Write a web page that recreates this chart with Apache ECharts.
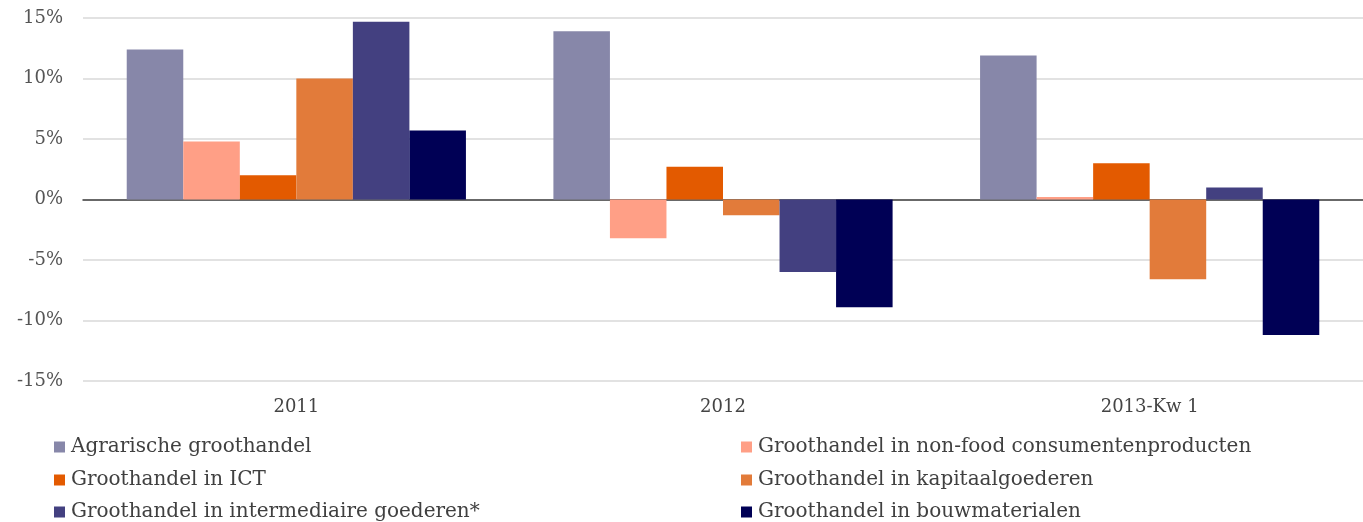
<!DOCTYPE html>
<html><head><meta charset="utf-8">
<script src="https://cdn.jsdelivr.net/npm/echarts@6/dist/echarts.min.js"></script>
<style>html,body{margin:0;padding:0;background:#fff}#c{width:1363px;height:522px}</style>
</head><body><div id="c"></div>
<script>
const categories = ['2011', '2012', '2013-Kw 1'];
const seriesNames = [
  'Agrarische groothandel',
  'Groothandel in non-food consumentenproducten',
  'Groothandel in ICT',
  'Groothandel in kapitaalgoederen',
  'Groothandel in intermediaire goederen*',
  'Groothandel in bouwmaterialen'
];
const agrarisch = [12.4, 13.9, 11.9];
const nonFood = [4.8, -3.2, 0.2];
const ict = [2.0, 2.7, 3.0];
const kapitaal = [10.0, -1.3, -6.6];
const intermediair = [14.7, -6.0, 1.0];
const bouw = [5.7, -8.9, -11.2];
const yTicks = { min: -15, max: 15, interval: 5 };

const colors = ['#8787a9', '#ff9f86', '#e35a00', '#e27b3a', '#434080', '#000055'];
const values = [agrarisch, nonFood, ict, kapitaal, intermediair, bouw];
const font = '"DejaVu Serif", serif';

const legendText = { fontFamily: font, fontSize: 20, lineHeight: 20, color: '#404040', padding: [0,0,0,1] };
const legendCols = [54, 741];
const legendRows = [437, 470, 502];
const legends = seriesNames.map((n, i) => ({
  orient: 'horizontal', left: legendCols[i % 2], top: legendRows[Math.floor(i / 2)], padding: 0,
  itemWidth: 11, itemHeight: 11, icon: 'rect', data: [n], textStyle: legendText
}));

const chart = echarts.init(document.getElementById('c'));
chart.setOption({
  animation: false,
  textStyle: { fontFamily: font },
  grid: { left: 83, right: 0, top: 18, bottom: 141 },
  legend: legends,
  xAxis: {
    type: 'category', data: categories,
    axisLine: { onZero: true, lineStyle: { color: '#404040', width: 1.5 } },
    axisTick: { show: false },
    axisLabel: { fontFamily: font, fontSize: 18, color: '#444', margin: 0, padding: [17,0,0,0] },
    position: 'bottom'
  },
  yAxis: {
    type: 'value', min: yTicks.min, max: yTicks.max, interval: yTicks.interval,
    axisLine: { show: false }, axisTick: { show: false },
    axisLabel: { formatter: '{value}%', fontFamily: font, fontSize: 18, color: '#555', margin: 20 },
    splitLine: { lineStyle: { color: '#d9d9d9', width: 1.5 } }
  },
  series: seriesNames.map((n, i) => ({
    name: n, type: 'bar', data: values[i],
    barGap: '0%', barCategoryGap: '20.5%',
    itemStyle: { color: colors[i] }
  }))
});
</script></body></html>
